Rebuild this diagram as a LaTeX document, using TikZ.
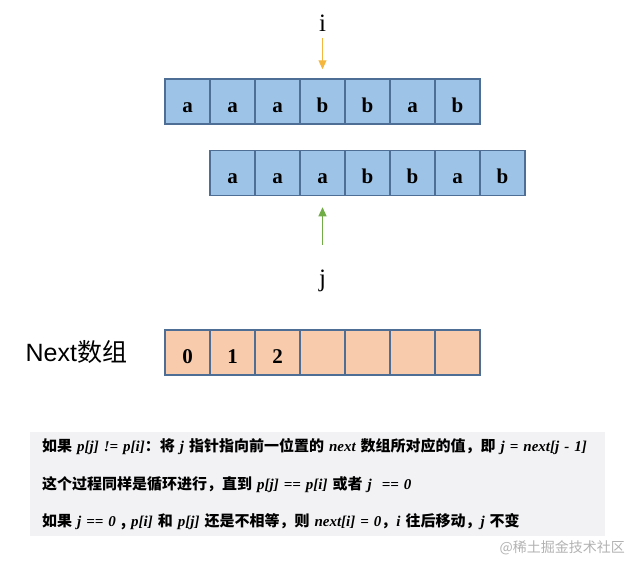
\documentclass[tikz,border=0pt]{standalone}
\usepackage{fontspec}
\setmainfont{Liberation Serif}
\setsansfont{Liberation Sans}
\newfontfamily\cjk{Noto Sans CJK SC}
\usetikzlibrary{arrows,arrows.meta,positioning}
\definecolor{cellblue}{HTML}{9DC3E6}
\definecolor{cellorange}{HTML}{F8CBAD}
\definecolor{cellline}{HTML}{4F6E95}
\definecolor{ptri}{HTML}{F5B63E}
\definecolor{ptrj}{HTML}{70AD47}
\definecolor{notebg}{HTML}{F2F2F4}
\tikzstyle{cell} = [draw=cellline, line width=1.5pt, minimum size=45pt, inner sep=0pt, text height=21pt, text depth=0pt, font=\fontsize{21}{21}\selectfont\bfseries]
\tikzstyle{strcell} = [cell, fill=cellblue]
\tikzstyle{nextcell} = [cell, fill=cellorange]
\tikzstyle{ptr} = [font=\fontsize{25}{25}\selectfont]
\tikzstyle{ptrarrow} = [-{Triangle[length=9pt,width=8pt]}, line width=1.1pt]
\tikzstyle{notebox} = [fill=notebg, inner xsep=12pt, inner ysep=6pt, text width=551pt, align=left, font=\fontsize{15}{17}\selectfont\cjk\bfseries]
\newcommand{\pv}[1]{{\rmfamily\bfseries\itshape #1}}

\begin{document}
\begin{tikzpicture}[x=1pt,y=-1pt]
\useasboundingbox (0,0) rectangle (641,571);
% text string
\foreach \c [count=\k] in {a,a,a,b,b,a,b}
  \node[strcell] (t\k) at (142.5+45*\k,101.5) {\c};
% pattern string
\foreach \c [count=\k] in {a,a,a,b,b,a,b}
  \node[strcell] (p\k) at (187.5+45*\k,173) {\c};
% next array
\foreach \c [count=\k] in {0,1,2,,,,}
  \node[nextcell] (n\k) at (142.5+45*\k,352.5) {\c};
\node[font=\fontsize{25}{25}\selectfont, inner sep=0pt, left=37pt of n1] (nextlabel) {\sffamily Next{\cjk 数组}};
% pointers
\node[ptr, anchor=base] (i) at (322.5,31) {i};
\node[ptr, anchor=base] (j) at (322.5,286) {j};
\draw[ptrarrow, ptri, shorten <=3pt, shorten >=9pt] (i.south) -- (t4.north);
\draw[ptrarrow, ptrj, shorten <=21pt, shorten >=11pt] (j.north) -- (p3.south);
% notes
\node[notebox, anchor=north west] (note) at (30,432) {%
  如果 \pv{p[j] != p[i]}：将 \pv{j} 指针指向前一位置的 \pv{next} 数组所对应的值，即 \pv{j = next[j - 1]}\\[21pt]
  这个过程同样是循环进行，直到 \pv{p[j] == p[i]} 或者 \pv{j \ == 0}\\[20pt]
  如果 \pv{j == 0} , \pv{p[i]} 和 \pv{p[j]} 还是不相等，则 \pv{next[i] = 0}，\pv{i} 往后移动，\pv{j} 不变};
\node[font=\fontsize{14}{14}\selectfont\cjk, text=black!30, anchor=east, inner sep=0pt] (mark) at (625,548) {@稀土掘金技术社区};
\end{tikzpicture}
\end{document}
